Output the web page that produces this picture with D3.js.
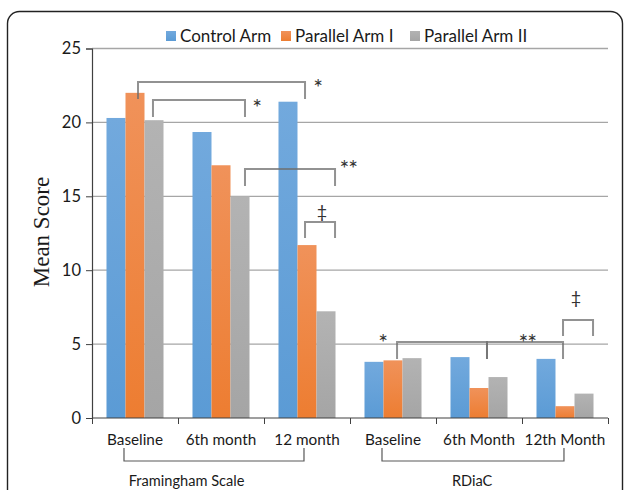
<!DOCTYPE html>
<html>
<head>
<meta charset="utf-8">
<script src="https://cdn.jsdelivr.net/npm/d3@7"></script>
<style>
  body { margin: 0; background: #fff; }
  text { font-family: Lato, 'Noto Sans', sans-serif; fill: #1a1a1a; }
  .serif { font-family: 'Liberation Serif', 'DejaVu Serif', serif; }
</style>
</head>
<body>
<script>
const WIDTH = 627;
const HEIGHT = 490;

// data
const categories = ['Baseline', '6th month', '12 month', 'Baseline', '6th Month', '12th Month'];
const series = ['Control Arm', 'Parallel Arm I', 'Parallel Arm II'];
const control = [20.3, 19.35, 21.4, 3.8, 4.12, 4.0];
const parallel1 = [22.0, 17.1, 11.7, 3.9, 2.03, 0.8];
const parallel2 = [20.15, 15.0, 7.22, 4.05, 2.77, 1.65];
const yTicks = [0, 5, 10, 15, 20, 25];
const groups = ['Framingham Scale', 'RDiaC'];

const colors = ['#5b9bd5', '#ed7d31', '#a5a5a5'];
const topColors = ['#72a9dd', '#f0925a', '#b3b3b3'];

const values = [control, parallel1, parallel2];
const rows = categories.map((c, i) => ({ i, cat: c, vals: values.map(v => v[i]) }));

// significance marks: x in category units, y in score units
const brackets = [
  { x1: 0.535, x2: 2.477, top: 22.73, end: 21.58, label: '*', lx: 2.63, ly: 22.73 },
  { x1: 0.709, x2: 1.779, top: 21.52, end: 20.37, label: '*', lx: 1.92, ly: 21.38 },
  { x1: 1.779, x2: 2.826, top: 16.85, end: 15.70, label: '**', lx: 2.98, ly: 17.25 },
  { x1: 2.477, x2: 2.826, top: 13.26, end: 12.18, label: '\u2021', lx: 2.674, ly: 13.94 },
  { x1: 3.547, x2: 4.593, top: 5.14, end: 3.99, label: '*', lx: 3.384, ly: 5.48 },
  { x1: 4.593, x2: 5.477, top: 5.14, end: 3.99, label: '**', lx: 5.06, ly: 5.48 },
  { x1: 5.477, x2: 5.826, top: 6.63, end: 5.55, label: '\u2021', lx: 5.628, ly: 8.12 }
];
const groupSpans = [
  { name: groups[0], x1: 0.372, x2: 2.465, lx: 1.10 },
  { name: groups[1], x1: 3.372, x2: 5.488, lx: 4.42 }
];

const plot = { left: 92, right: 608, top: 48.5, bottom: 418 };

const svg = d3.select('body')
  .append('svg')
  .attr('width', WIDTH)
  .attr('height', HEIGHT);

// frame
svg.append('rect')
  .attr('x', 7.5).attr('y', 11.5)
  .attr('width', 615).attr('height', 620)
  .attr('rx', 12)
  .attr('fill', 'none')
  .attr('stroke', '#222')
  .attr('stroke-width', 1.4);

const y = d3.scaleLinear()
  .domain([0, 25])
  .range([plot.bottom, plot.top]);

const x0 = d3.scaleBand()
  .domain(d3.range(categories.length))
  .range([plot.left, plot.right])
  .paddingInner(0.337)
  .paddingOuter(0.1685);

const x1 = d3.scaleBand()
  .domain(d3.range(series.length))
  .range([0, x0.bandwidth()]);

const xc = d3.scaleLinear()
  .domain([0, categories.length])
  .range([plot.left, plot.right]);

// gradients
const defs = svg.append('defs');
colors.forEach((c, k) => {
  const g = defs.append('linearGradient')
    .attr('id', 'grad' + k)
    .attr('x1', 0).attr('y1', 0).attr('x2', 0).attr('y2', 1);
  g.append('stop').attr('offset', '0%').attr('stop-color', topColors[k]);
  g.append('stop').attr('offset', '100%').attr('stop-color', c);
});

// gridlines
svg.append('g')
  .selectAll('line')
  .data(yTicks.filter(d => d > 0))
  .enter()
  .append('line')
  .attr('x1', plot.left).attr('x2', plot.right)
  .attr('y1', d => y(d)).attr('y2', d => y(d))
  .attr('stroke', '#a6a6a6')
  .attr('stroke-width', 1.3);

// bars
svg.append('g')
  .selectAll('g')
  .data(rows)
  .enter()
  .append('g')
  .attr('transform', d => 'translate(' + x0(d.i) + ',0)')
  .selectAll('rect')
  .data(d => d.vals)
  .enter()
  .append('rect')
  .attr('x', (d, k) => x1(k))
  .attr('width', x1.bandwidth())
  .attr('y', d => y(d))
  .attr('height', d => y(0) - y(d))
  .attr('fill', (d, k) => 'url(#grad' + k + ')');

// axes
const yAxis = d3.axisLeft(y)
  .tickValues(yTicks)
  .tickSize(6)
  .tickPadding(5);

const yg = svg.append('g')
  .attr('transform', 'translate(' + plot.left + ',0)')
  .call(yAxis);
yg.select('.domain').attr('stroke', '#404040').attr('stroke-width', 1.2);
yg.selectAll('.tick line').attr('stroke', '#404040');
yg.selectAll('.tick text')
  .attr('font-family', 'Lato, sans-serif')
  .attr('font-size', 16.5)
  .attr('fill', '#1a1a1a');

const xAxis = d3.axisBottom(xc)
  .tickValues(d3.range(categories.length + 1))
  .tickSize(6)
  .tickFormat('');

const xg = svg.append('g')
  .attr('transform', 'translate(0,' + plot.bottom + ')')
  .call(xAxis);
xg.select('.domain').attr('stroke', '#404040').attr('stroke-width', 1.2).attr('d', 'M' + plot.left + ',0H' + plot.right);
xg.selectAll('.tick line').attr('stroke', '#404040');

svg.append('g')
  .selectAll('text')
  .data(rows)
  .enter()
  .append('text')
  .attr('x', d => xc(d.i + 0.5))
  .attr('y', 444.5)
  .attr('text-anchor', 'middle')
  .attr('font-size', 15.3)
  .text(d => d.cat);

// group brackets under labels
const gb = svg.append('g');
gb.selectAll('path')
  .data(groupSpans)
  .enter()
  .append('path')
  .attr('d', d => 'M' + xc(d.x1) + ',448V461H' + xc(d.x2) + 'V448')
  .attr('fill', 'none')
  .attr('stroke', '#595959')
  .attr('stroke-width', 1.2);
gb.selectAll('text')
  .data(groupSpans)
  .enter()
  .append('text')
  .attr('x', d => xc(d.lx))
  .attr('y', 485.5)
  .attr('text-anchor', 'middle')
  .attr('font-size', 14.6)
  .text(d => d.name);

// significance brackets
const sb = svg.append('g');
sb.selectAll('path')
  .data(brackets)
  .enter()
  .append('path')
  .attr('d', d => 'M' + xc(d.x1) + ',' + y(d.end) + 'V' + y(d.top) + 'H' + xc(d.x2) + 'V' + y(d.end))
  .attr('fill', 'none')
  .attr('stroke', '#6e6e6e')
  .attr('stroke-opacity', 0.75)
  .attr('stroke-width', 2);
sb.selectAll('text')
  .data(brackets)
  .enter()
  .append('text')
  .attr('x', d => xc(d.lx))
  .attr('y', d => y(d.ly) + (d.label === '\u2021' ? 6 : 14))
  .attr('text-anchor', 'middle')
  .attr('font-family', d => d.label === '\u2021' ? "'Liberation Serif', serif" : "'DejaVu Sans', sans-serif")
  .attr('font-size', d => d.label === '\u2021' ? 18 : 23)
  .attr('letter-spacing', d => d.label === '**' ? -1 : 0)
  .style('fill', '#333')
  .text(d => d.label);

// y label
svg.append('text')
  .attr('class', 'serif')
  .attr('transform', 'translate(49,232) rotate(-90)')
  .attr('text-anchor', 'middle')
  .attr('font-size', 23)
  .text('Mean Score');

// legend
const legendX = [166, 281, 410];
const legend = svg.append('g');
legend.selectAll('rect')
  .data(series)
  .enter()
  .append('rect')
  .attr('x', (d, k) => legendX[k])
  .attr('y', 31)
  .attr('width', 10)
  .attr('height', 10)
  .attr('fill', (d, k) => 'url(#grad' + k + ')');
legend.selectAll('text')
  .data(series)
  .enter()
  .append('text')
  .attr('x', (d, k) => legendX[k] + 14)
  .attr('y', 42)
  .attr('font-size', 17)
  .text(d => d);
</script>
</body>
</html>
